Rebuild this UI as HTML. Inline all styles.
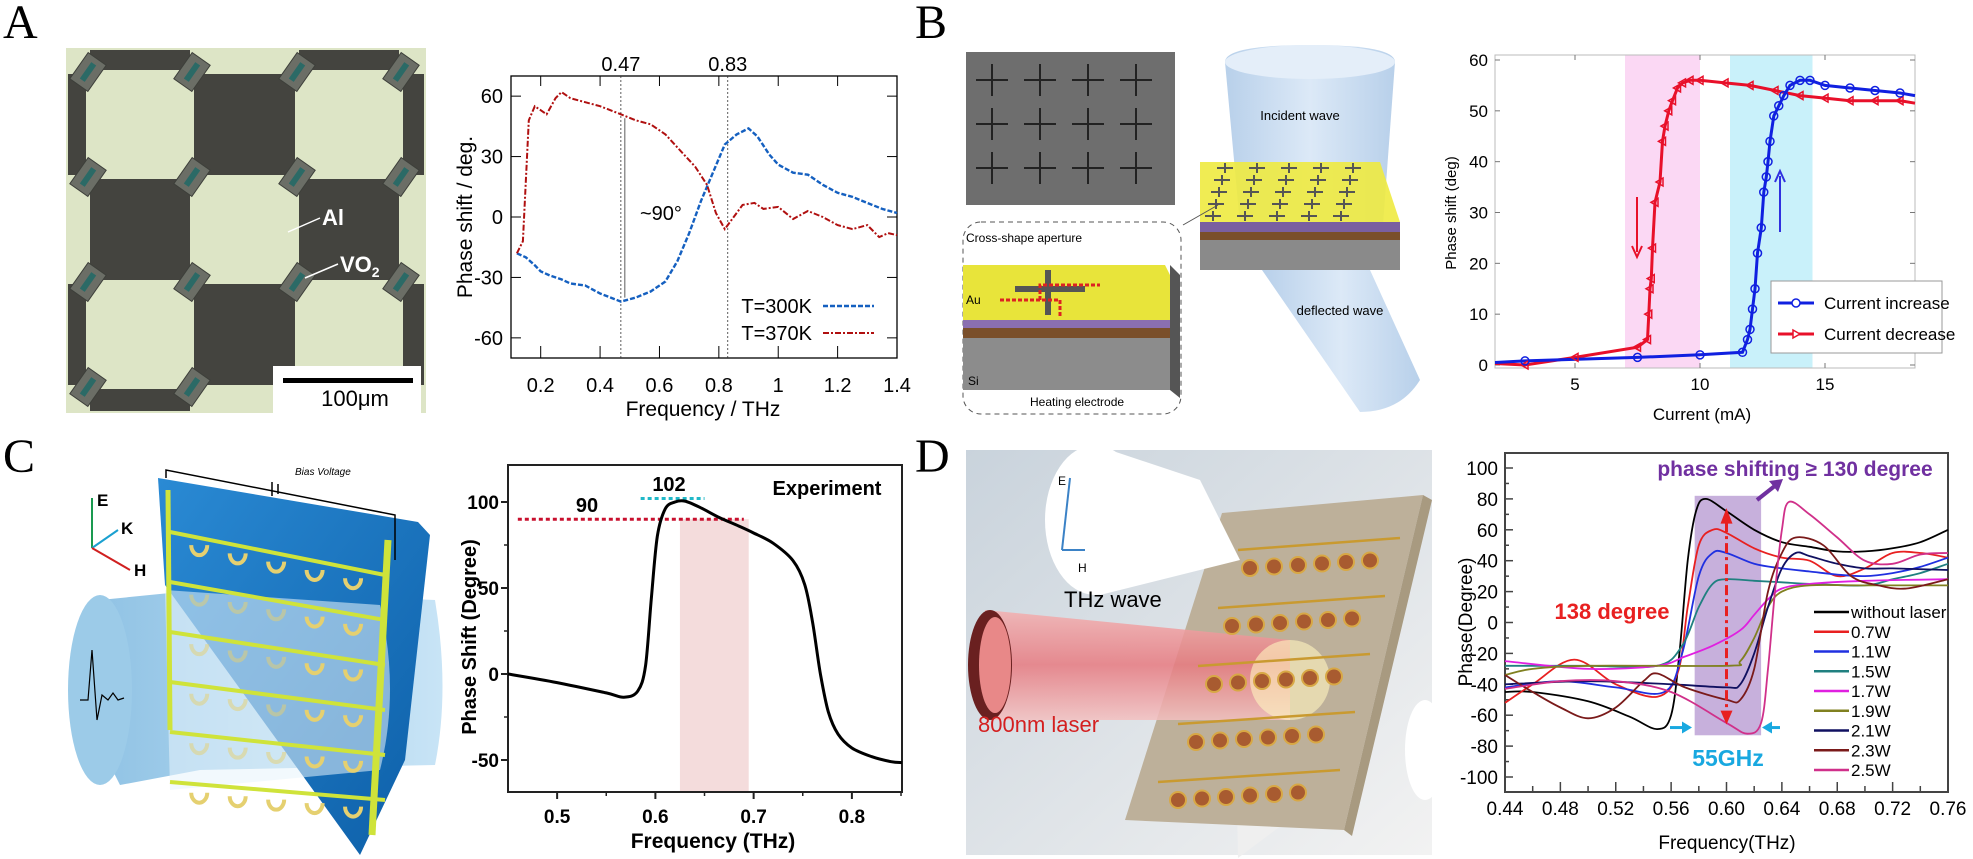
<!DOCTYPE html>
<html><head><meta charset="utf-8">
<style>
html,body{margin:0;padding:0;background:#fff;}
svg{display:block;}
text{font-family:"Liberation Sans",sans-serif;}
.n{font-family:"Liberation Sans Narrow","Liberation Sans",sans-serif;}
.lab{font-family:"Liberation Serif",serif;font-size:48px;}
</style></head>
<body>
<svg id="s" width="1973" height="859" viewBox="0 0 1973 859" xmlns="http://www.w3.org/2000/svg">
<defs>
<linearGradient id="beamC" x1="0" y1="0" x2="1" y2="0"><stop offset="0" stop-color="#8fc2e4"/><stop offset="1" stop-color="#c8e4f6"/></linearGradient>
<linearGradient id="panelC" x1="0" y1="0" x2="1" y2="1"><stop offset="0" stop-color="#2a8ad4"/><stop offset="1" stop-color="#0d5fa8"/></linearGradient>
<linearGradient id="bgD" x1="0" y1="0" x2="1" y2="1"><stop offset="0" stop-color="#c9d3dc"/><stop offset="1" stop-color="#f2f2f2"/></linearGradient>
<linearGradient id="laser" x1="0" y1="0" x2="0" y2="1"><stop offset="0" stop-color="#f3b0b0"/><stop offset="0.5" stop-color="#e77a80"/><stop offset="1" stop-color="#f3c0c0"/></linearGradient>
<linearGradient id="coneB" x1="0" y1="0" x2="1" y2="0"><stop offset="0" stop-color="#b8d0ea"/><stop offset="0.5" stop-color="#dce9f7"/><stop offset="1" stop-color="#b8d0ea"/></linearGradient>
</defs>

<text class="lab" x="3" y="38">A</text>
<text class="lab" x="915" y="38">B</text>
<text class="lab" x="3" y="472">C</text>
<text class="lab" x="915" y="472">D</text>

<g id="photoA">
<rect x="66" y="48" width="360" height="365" fill="#dde5c6"/>
</g>
<rect x="273" y="366" width="148" height="47" fill="#fff"/>
<rect x="283" y="378" width="130" height="5" fill="#000"/>
<text class="n" x="355" y="406" font-size="22" text-anchor="middle">100μm</text>
<text class="n" x="322" y="225" font-size="22" font-weight="bold" fill="#fff">Al</text>
<text class="n" x="340" y="272" font-size="22" font-weight="bold" fill="#fff">VO<tspan font-size="14" dy="5">2</tspan></text>
<line x1="320" y1="218" x2="288" y2="232" stroke="#fff" stroke-width="1.5"/>
<line x1="338" y1="264" x2="305" y2="278" stroke="#fff" stroke-width="1.5"/>

<!-- B illustration -->
<rect x="966" y="52" width="209" height="153" fill="#6e6e6e"/>
<g id="sem" stroke="#222" stroke-width="2"></g>
<rect x="963" y="222" width="218" height="192" rx="18" fill="none" stroke="#555" stroke-dasharray="5,4"/>
<text class="n" x="966" y="242" font-size="12">Cross-shape aperture</text>
<polygon points="963,265 1165,265 1170,275 1170,320 963,320" fill="#e8e43a"/>
<polygon points="963,320 1170,320 1170,328 963,328" fill="#8a6fb0"/>
<polygon points="963,328 1170,328 1170,338 963,338" fill="#7a4f2a"/>
<polygon points="963,338 1170,338 1170,390 963,390" fill="#8c8c8c"/>
<polygon points="1170,265 1180,275 1180,398 1170,390" fill="#555"/>
<rect x="1015" y="286" width="70" height="6" fill="#555"/>
<rect x="1045" y="270" width="6" height="45" fill="#555"/>
<path d="M1000,300 H1060 V318 M1040,300 V285 H1100" stroke="#d22" stroke-width="3" stroke-dasharray="4,2" fill="none"/>
<text class="n" x="966" y="304" font-size="12">Au</text>
<text class="n" x="968" y="385" font-size="12">Si</text>
<text class="n" x="1030" y="406" font-size="12">Heating electrode</text>
<path d="M1225,62 Q1225,45 1310,45 Q1395,45 1395,62 L1383,225 L1240,225 Z" fill="url(#coneB)"/>
<ellipse cx="1310" cy="62" rx="85" ry="17" fill="#e4eef9"/>
<path d="M1262,270 L1370,270 L1420,380 Q1400,412 1360,412 Z" fill="url(#coneB)"/>
<polygon points="1200,162 1380,162 1400,222 1200,222" fill="#eeea40" opacity="0.9"/>
<polygon points="1200,222 1400,222 1400,232 1200,232" fill="#7a5fa0"/>
<polygon points="1200,232 1400,232 1400,240 1200,240" fill="#7a4f2a"/>
<polygon points="1200,240 1400,240 1400,270 1200,270" fill="#8a8a8a"/>
<g id="slabcross" stroke="#555" stroke-width="2"></g>
<text class="n" x="1300" y="120" font-size="13" text-anchor="middle">Incident wave</text>
<text class="n" x="1340" y="315" font-size="13" text-anchor="middle">deflected wave</text>
<line x1="1218" y1="205" x2="1183" y2="225" stroke="#555"/>

<!-- C illustration -->
<path d="M100,600 Q70,690 120,785 L200,770 L435,765 Q450,690 435,600 L200,590 Z" fill="url(#beamC)"/>
<ellipse cx="100" cy="690" rx="32" ry="95" fill="#9ccbe8"/>
<polygon points="158,478 418,522 430,535 405,760 360,855 165,585" fill="url(#panelC)"/>
<path d="M165,590 L380,605 Q400,690 380,770 L170,790 Z" fill="#e8f4fc" opacity="0.55"/>
<g id="ringsC"></g>
<path d="M166,478 V470 L395,515 V560" stroke="#000" fill="none" stroke-width="1.5"/>
<line x1="272" y1="482" x2="272" y2="496" stroke="#000" stroke-width="1.5"/>
<line x1="278" y1="484" x2="278" y2="494" stroke="#000" stroke-width="1.5"/>
<text x="295" y="475" font-size="10" font-style="italic" font-family="Liberation Serif,serif">Bias Voltage</text>
<line x1="92" y1="548" x2="92" y2="498" stroke="#1a9a50" stroke-width="2"/>
<line x1="92" y1="548" x2="118" y2="530" stroke="#1aa0d0" stroke-width="2"/>
<line x1="92" y1="548" x2="130" y2="570" stroke="#d02020" stroke-width="2"/>
<text x="97" y="506" font-size="17" font-weight="bold">E</text>
<text x="121" y="534" font-size="17" font-weight="bold">K</text>
<text x="134" y="576" font-size="17" font-weight="bold">H</text>
<path d="M80,700 L88,700 L92,650 L97,720 L102,695 L108,700 L113,693 L118,700 L124,698" stroke="#000" fill="none" stroke-width="1.2"/>

<!-- D illustration -->
<rect x="966" y="450" width="466" height="405" fill="url(#bgD)"/>
<polygon points="1232,528 1325,515 1322,795 1238,858" fill="#efefef"/>
<polygon points="1222,513 1423,495 1344,830 1125,820" fill="#bdb09a"/>
<polygon points="1423,495 1432,500 1352,836 1344,830" fill="#a89a80"/>
<ellipse cx="1095" cy="520" rx="50" ry="75" fill="#fff"/>
<polygon points="1095,445 1200,480 1240,560 1100,595" fill="#fff"/>
<line x1="1062" y1="550" x2="1070" y2="478" stroke="#3b82c6" stroke-width="2"/>
<line x1="1062" y1="550" x2="1085" y2="550" stroke="#3b82c6" stroke-width="2"/>
<text x="1058" y="485" font-size="12" font-family="Liberation Serif,serif">E</text>
<text x="1078" y="572" font-size="12" font-family="Liberation Serif,serif">H</text>
<text class="n" x="1064" y="607" font-size="22">THz wave</text>
<polygon points="985,610 1290,640 1290,720 985,720" fill="url(#laser)" opacity="0.85"/>
<ellipse cx="990" cy="665" rx="22" ry="55" fill="#6a2020"/>
<ellipse cx="995" cy="665" rx="16" ry="48" fill="#e88888"/>
<ellipse cx="1290" cy="680" rx="40" ry="40" fill="#fff5c0" opacity="0.6"/>
<g id="dotsD"></g>
<text class="n" x="978" y="732" font-size="22" fill="#d42020">800nm laser</text>
<ellipse cx="1425" cy="750" rx="20" ry="50" fill="#fff"/>

<g id="charts"></g>
</svg>

<script>
var NS="http://www.w3.org/2000/svg";
var G=document.getElementById('charts');
function el(tag,attrs,parent,txt){var e=document.createElementNS(NS,tag);for(var k in attrs)e.setAttribute(k,attrs[k]);if(txt!==undefined)e.textContent=txt;(parent||G).appendChild(e);return e;}
function mapper(x0,x1,px0,px1,y0,y1,py0,py1){return {x:function(v){return px0+(v-x0)/(x1-x0)*(px1-px0);},y:function(v){return py0+(v-y0)/(y1-y0)*(py1-py0);}};}
function smooth(m,pts){var p=pts.map(function(q){return [m.x(q[0]),m.y(q[1])];});var d="M"+p[0][0].toFixed(1)+","+p[0][1].toFixed(1);
for(var i=0;i<p.length-1;i++){var a=p[i-1]||p[i],b=p[i],c=p[i+1],e=p[i+2]||c;
var c1=[b[0]+(c[0]-a[0])/6,b[1]+(c[1]-a[1])/6],c2=[c[0]-(e[0]-b[0])/6,c[1]-(e[1]-b[1])/6];
d+=" C"+c1[0].toFixed(1)+","+c1[1].toFixed(1)+" "+c2[0].toFixed(1)+","+c2[1].toFixed(1)+" "+c[0].toFixed(1)+","+c[1].toFixed(1);}return d;}
function poly(m,pts){return "M"+pts.map(function(q){return m.x(q[0]).toFixed(1)+","+m.y(q[1]).toFixed(1);}).join(" L");}

(function(){var g=document.getElementById('photoA');
var xs=[66,88,192,297,401,426],ys=[48,72,177,282,387,413];
for(var r=0;r<5;r++)for(var c=0;c<5;c++){if((r+c)%2==1)el('rect',{x:xs[c]+2,y:ys[r]+2,width:xs[c+1]-xs[c]-4,height:ys[r+1]-ys[r]-4,fill:'#44443f'},g);}
[88,192,297,401].forEach(function(x){[72,177,282,387].forEach(function(y){
el('rect',{x:x-11,y:y-16,width:22,height:32,fill:'#6b6e66',stroke:'#3d3f3a','stroke-width':1,transform:'rotate(35 '+x+' '+y+')'},g);
el('rect',{x:x-3,y:y-10,width:6,height:20,fill:'#2b6a66',transform:'rotate(35 '+x+' '+y+')'},g);});});
})();

(function(){var g=document.getElementById('sem');
[992,1040,1088,1136].forEach(function(x){[80,124,168].forEach(function(y){el('line',{x1:x-16,y1:y,x2:x+16,y2:y},g);el('line',{x1:x,y1:y-16,x2:x,y2:y+16},g);});});
var g2=document.getElementById('slabcross');
for(var r=0;r<5;r++)for(var c=0;c<5;c++){var x=1225+c*32+r*(-3),y=168+r*12;el('line',{x1:x-8,y1:y,x2:x+8,y2:y},g2);el('line',{x1:x,y1:y-5,x2:x,y2:y+5},g2);}
var gr=document.getElementById('ringsC');
el('line',{x1:168,y1:490,x2:170,y2:730,stroke:'#cfe33a','stroke-width':5},gr);
el('line',{x1:388,y1:540,x2:372,y2:835,stroke:'#cfe33a','stroke-width':7},gr);
for(var r=0;r<6;r++){var yl=532+r*50,yr=575+r*45;
el('line',{x1:170,y1:yl,x2:385,y2:yr,stroke:'#cfe33a','stroke-width':4},gr);
for(var c=0;c<5;c++){var t=(c+0.5)/5.2;var x=180+t*200,yy=yl+t*(yr-yl)+9;
el('path',{d:'M'+(x-8)+','+(yy)+' a8,10 0 1,0 16,0',stroke:'#e5d070','stroke-width':4,fill:'none',opacity:(x<300&&yy>580&&yy<790)?0.5:1},gr);}}
var gd=document.getElementById('dotsD');
for(var r=0;r<5;r++){var y=560+r*58;el('line',{x1:1238-r*20,y1:y-10,x2:1400-r*15,y2:y-22,stroke:'#c99a30','stroke-width':2.5},gd);
for(var c=0;c<6;c++){var x=1250+c*24-r*18;el('circle',{cx:x,cy:y+8-c*1.5,r:8,fill:'#a85b30',stroke:'#d8a845','stroke-width':2},gd);}}
})();

(function(){var m=mapper(0.1,1.4,511,897,70,-70,76,358);
el('rect',{x:511,y:76,width:386,height:282,fill:'none',stroke:'#000','stroke-width':1.3});
[0.2,0.4,0.6,0.8,1,1.2,1.4].forEach(function(v){var x=m.x(v);el('line',{x1:x,y1:358,x2:x,y2:346,stroke:'#000'});el('line',{x1:x,y1:76,x2:x,y2:86,stroke:'#000'});
el('text',{x:x,y:392,'font-size':20,'text-anchor':'middle',class:'n'},undefined,String(v));});
[-60,-30,0,30,60].forEach(function(v){var y=m.y(v);el('line',{x1:511,y1:y,x2:521,y2:y,stroke:'#000'});el('line',{x1:897,y1:y,x2:887,y2:y,stroke:'#000'});
el('text',{x:503,y:y+7,'font-size':20,'text-anchor':'end',class:'n'},undefined,String(v));});
[0.47,0.83].forEach(function(v){var x=m.x(v);el('line',{x1:x,y1:76,x2:x,y2:358,stroke:'#333','stroke-dasharray':'2,2','stroke-width':0.8});
el('text',{x:x,y:71,'font-size':20,'text-anchor':'middle',class:'n'},undefined,String(v));});
el('text',{x:703,y:416,'font-size':21,'text-anchor':'middle',class:'n'},undefined,'Frequency / THz');
el('text',{x:0,y:0,'font-size':21,'text-anchor':'middle',transform:'translate(472,217) rotate(-90)'},undefined,'Phase shift / deg.');
var x47=m.x(0.47);el('line',{x1:x47+4,y1:m.y(-40),x2:x47+4,y2:m.y(49),stroke:'#333','stroke-width':0.8});
el('text',{x:640,y:220,'font-size':20,class:'n'},undefined,'~90°');
var blue=[[0.12,-18],[0.15,-20],[0.18,-24],[0.2,-27],[0.23,-29],[0.27,-31],[0.3,-33],[0.35,-34],[0.4,-38],[0.47,-42],[0.52,-40],[0.57,-37],[0.62,-32],[0.66,-22],[0.7,-8],[0.74,8],[0.78,22],[0.82,36],[0.86,41],[0.9,44],[0.93,40],[0.97,31],[1.0,26],[1.05,22],[1.1,21],[1.15,16],[1.2,12],[1.25,10],[1.3,7],[1.35,4],[1.4,2]];
var red=[[0.12,-18],[0.14,-12],[0.16,48],[0.18,55],[0.2,53],[0.22,51],[0.25,59],[0.27,62],[0.3,59],[0.35,57],[0.4,55],[0.47,51],[0.52,48],[0.57,46],[0.62,41],[0.67,33],[0.72,25],[0.76,16],[0.79,2],[0.82,-6],[0.85,0],[0.88,6],[0.92,7],[0.95,4],[1.0,5],[1.05,-1],[1.1,3],[1.15,0],[1.2,-4],[1.25,-6],[1.3,-4],[1.34,-10],[1.37,-8],[1.4,-9]];
el('path',{d:poly(m,blue),stroke:'#1560c0','stroke-width':2.4,fill:'none','stroke-dasharray':'5,2'});
el('path',{d:poly(m,red),stroke:'#b01010','stroke-width':2,fill:'none','stroke-dasharray':'6,2,2,2'});
el('text',{x:812,y:313,'font-size':20,'text-anchor':'end',class:'n'},undefined,'T=300K');
el('text',{x:812,y:340,'font-size':20,'text-anchor':'end',class:'n'},undefined,'T=370K');
el('line',{x1:823,y1:306,x2:874,y2:306,stroke:'#1560c0','stroke-width':2.4,'stroke-dasharray':'5,2'});
el('line',{x1:823,y1:333,x2:874,y2:333,stroke:'#b01010','stroke-width':2,'stroke-dasharray':'6,2,2,2'});
})();

(function(){var m=mapper(1.8,18.6,1495,1915,0,60,365,60);
el('rect',{x:m.x(7),y:55,width:m.x(10)-m.x(7),height:313,fill:'#fbd8f4'});
el('rect',{x:m.x(11.2),y:55,width:m.x(14.5)-m.x(11.2),height:313,fill:'#c9f1fa'});
el('rect',{x:1495,y:55,width:420,height:313,fill:'none',stroke:'#bbb','stroke-width':1});
[5,10,15].forEach(function(v){var x=m.x(v);el('line',{x1:x,y1:368,x2:x,y2:363,stroke:'#777'});el('line',{x1:x,y1:55,x2:x,y2:60,stroke:'#777'});
el('text',{x:x,y:390,'font-size':17,'text-anchor':'middle',class:'n'},undefined,String(v));});
[0,10,20,30,40,50,60].forEach(function(v){var y=m.y(v);el('line',{x1:1495,y1:y,x2:1500,y2:y,stroke:'#777'});el('line',{x1:1915,y1:y,x2:1910,y2:y,stroke:'#777'});
el('text',{x:1488,y:y+6,'font-size':17,'text-anchor':'end',class:'n'},undefined,String(v));});
el('text',{x:1702,y:420,'font-size':17,'text-anchor':'middle',class:'n'},undefined,'Current (mA)');
el('text',{x:0,y:0,'font-size':15,'text-anchor':'middle',transform:'translate(1456,213) rotate(-90)'},undefined,'Phase shift (deg)');
var blue=[[1.8,0.5],[3,0.8],[7.5,1.5],[10,2],[11.7,2.5],[11.9,5],[12,7],[12.1,11],[12.2,15],[12.3,22],[12.45,27],[12.55,34],[12.65,37],[12.72,40],[12.8,44],[12.95,49],[13.15,51],[13.35,53],[13.6,55],[14,56],[14.4,56],[15,55],[16,54.5],[17,54],[18,53.5],[18.6,53]];
var red=[[18.6,51.5],[18,52],[17,52],[16,52],[15,52.5],[14,53],[13,54],[12,55],[11,55.5],[10,56],[9.6,56],[9.3,55.5],[9.1,54.5],[8.9,52],[8.75,50],[8.6,47],[8.5,44],[8.4,36],[8.2,32],[8.1,23],[8.05,17],[8.0,15],[7.95,10],[7.9,5],[7.5,3.5],[5,1.5],[3,0],[1.8,0.3]];
el('path',{d:poly(m,red),stroke:'#e8102a','stroke-width':3,fill:'none'});
el('path',{d:poly(m,blue),stroke:'#1020e0','stroke-width':3,fill:'none'});
red.forEach(function(p,i){if(i==0||i==red.length-1)return;var x=m.x(p[0]),y=m.y(p[1]);el('path',{d:'M'+(x-4)+','+y+' L'+(x+3)+','+(y-4)+' L'+(x+3)+','+(y+4)+'Z',fill:'none',stroke:'#e8102a','stroke-width':1.5});});
blue.forEach(function(p,i){if(i==0||i==blue.length-1)return;el('circle',{cx:m.x(p[0]),cy:m.y(p[1]),r:4,fill:'none',stroke:'#1020e0','stroke-width':1.5});});
el('line',{x1:1637,y1:197,x2:1637,y2:252,stroke:'#e8102a','stroke-width':2});
el('path',{d:'M1632,246 L1637,257 L1642,246',fill:'none',stroke:'#e8102a','stroke-width':2});
el('line',{x1:1780,y1:232,x2:1780,y2:176,stroke:'#3030e0','stroke-width':2});
el('path',{d:'M1775,182 L1780,171 L1785,182',fill:'none',stroke:'#3030e0','stroke-width':2});
el('rect',{x:1771,y:281,width:171,height:72,fill:'#fff',stroke:'#999'});
el('line',{x1:1778,y1:303,x2:1814,y2:303,stroke:'#1020e0','stroke-width':3});el('circle',{cx:1796,cy:303,r:4,fill:'#fff',stroke:'#1020e0','stroke-width':1.5});
el('line',{x1:1778,y1:334,x2:1814,y2:334,stroke:'#e8102a','stroke-width':3});el('path',{d:'M1800,334 L1793,330 L1793,338Z',fill:'#fff',stroke:'#e8102a','stroke-width':1.5});
el('text',{x:1824,y:309,'font-size':17,class:'n'},undefined,'Current increase');
el('text',{x:1824,y:340,'font-size':17,class:'n'},undefined,'Current decrease');
})();

(function(){var m=mapper(0.45,0.851,508,902,0,100,674,502);
el('rect',{x:m.x(0.625),y:m.y(90),width:m.x(0.695)-m.x(0.625),height:792-m.y(90),fill:'#f4dcdc'});
el('rect',{x:508,y:465,width:394,height:327,fill:'none',stroke:'#222','stroke-width':2});
[0.5,0.6,0.7,0.8].forEach(function(v){var x=m.x(v);el('line',{x1:x,y1:792,x2:x,y2:799,stroke:'#222','stroke-width':2});
el('text',{x:x,y:823,'font-size':19,'font-weight':'bold','text-anchor':'middle'},undefined,String(v));});
[0.55,0.65,0.75,0.85].forEach(function(v){var x=m.x(v);el('line',{x1:x,y1:792,x2:x,y2:796,stroke:'#222','stroke-width':1.5});});
[-50,0,50,100].forEach(function(v){var y=m.y(v);el('line',{x1:508,y1:y,x2:501,y2:y,stroke:'#222','stroke-width':2});
el('text',{x:499,y:y+7,'font-size':19,'font-weight':'bold','text-anchor':'end'},undefined,String(v));});
[-25,25,75].forEach(function(v){var y=m.y(v);el('line',{x1:508,y1:y,x2:504,y2:y,stroke:'#222','stroke-width':1.5});});
el('text',{x:713,y:848,'font-size':21,'font-weight':'bold','text-anchor':'middle'},undefined,'Frequency (THz)');
el('text',{x:0,y:0,'font-size':20,'font-weight':'bold','text-anchor':'middle',transform:'translate(476,637) rotate(-90)'},undefined,'Phase Shift (Degree)');
el('line',{x1:m.x(0.46),y1:m.y(90),x2:m.x(0.69),y2:m.y(90),stroke:'#c8102e','stroke-width':3,'stroke-dasharray':'4,3'});
el('line',{x1:m.x(0.585),y1:m.y(102),x2:m.x(0.65),y2:m.y(102),stroke:'#20b8c8','stroke-width':3,'stroke-dasharray':'4,3'});
var c=[[0.45,0],[0.5,-5],[0.55,-11],[0.568,-13.5],[0.582,-10],[0.59,5],[0.596,45],[0.602,80],[0.61,96],[0.62,100],[0.63,100.5],[0.645,97],[0.665,91],[0.685,86],[0.7,82],[0.72,76],[0.74,66],[0.752,52],[0.76,30],[0.768,0],[0.776,-22],[0.786,-35],[0.8,-43],[0.82,-48],[0.84,-51],[0.851,-51.5]];
el('path',{d:smooth(m,c),stroke:'#000','stroke-width':3,fill:'none'});
el('text',{x:587,y:512,'font-size':20,'font-weight':'bold','text-anchor':'middle'},undefined,'90');
el('text',{x:669,y:491,'font-size':20,'font-weight':'bold','text-anchor':'middle'},undefined,'102');
el('text',{x:827,y:495,'font-size':20,'font-weight':'bold','text-anchor':'middle'},undefined,'Experiment');
})();

(function(){var m=mapper(0.44,0.76,1505,1948,0,100,622.5,468);
el('rect',{x:m.x(0.577),y:m.y(82),width:m.x(0.625)-m.x(0.577),height:m.y(-73)-m.y(82),fill:'#c7b0dc'});
el('rect',{x:1505,y:453,width:443,height:339,fill:'none',stroke:'#444','stroke-width':2});
for(var i=0;i<=16;i++){var v=0.44+i*0.02,x=m.x(v);el('line',{x1:x,y1:792,x2:x,y2:i%2?786:782,stroke:'#444','stroke-width':1.5});
if(i%2==0)el('text',{x:x,y:815,'font-size':19,'text-anchor':'middle'},undefined,v.toFixed(2));}
for(var v=-100;v<=100;v+=10){var y=m.y(v);el('line',{x1:1505,y1:y,x2:v%20?1509:1513,y2:y,stroke:'#444','stroke-width':1.5});
if(v%20==0)el('text',{x:1498,y:y+7,'font-size':19,'text-anchor':'end',class:'n'},undefined,String(v));}
el('text',{x:1727,y:849,'font-size':19,'text-anchor':'middle',class:'n'},undefined,'Frequency(THz)');
el('text',{x:0,y:0,'font-size':19,'text-anchor':'middle',transform:'translate(1472,622) rotate(-90)'},undefined,'Phase(Degree)');
var S=[
['#000','without laser',[[0.44,-45],[0.46,-45],[0.5,-51],[0.53,-61],[0.55,-69],[0.56,-60],[0.566,-20],[0.572,40],[0.578,72],[0.585,80],[0.6,72],[0.62,60],[0.64,52],[0.66,49],[0.68,46],[0.7,46],[0.72,48],[0.74,52],[0.76,60]]],
['#e82020','0.7W',[[0.44,-52],[0.46,-40],[0.49,-24],[0.52,-40],[0.55,-48],[0.565,-32],[0.572,10],[0.58,50],[0.59,60],[0.6,58],[0.62,48],[0.64,42],[0.66,40],[0.68,30],[0.7,35],[0.72,45],[0.74,45],[0.76,42]]],
['#2030e0','1.1W',[[0.44,-42],[0.48,-38],[0.52,-42],[0.555,-45],[0.568,-20],[0.58,30],[0.59,45],[0.6,45],[0.62,38],[0.64,35],[0.66,33],[0.68,31],[0.7,30],[0.72,32],[0.74,36],[0.76,42]]],
['#208080','1.5W',[[0.44,-28],[0.5,-28],[0.55,-28],[0.568,-15],[0.58,10],[0.59,25],[0.6,28],[0.62,27],[0.64,26],[0.66,25],[0.7,24],[0.72,28],[0.74,32],[0.76,38]]],
['#e020e0','1.7W',[[0.44,-25],[0.5,-30],[0.55,-28],[0.57,-22],[0.59,-15],[0.61,-5],[0.62,5],[0.63,15],[0.64,22],[0.66,25],[0.7,27],[0.76,28]]],
['#808020','1.9W',[[0.44,-34],[0.46,-30],[0.5,-28],[0.6,-28],[0.61,-25],[0.62,-10],[0.63,10],[0.64,20],[0.66,24],[0.7,24],[0.76,24]]],
['#101060','2.1W',[[0.44,-40],[0.5,-38],[0.56,-40],[0.6,-42],[0.61,-40],[0.62,-20],[0.63,10],[0.64,35],[0.65,45],[0.66,43],[0.68,38],[0.7,35],[0.72,35],[0.76,34]]],
['#7a1a1a','2.3W',[[0.44,-34],[0.46,-45],[0.48,-55],[0.5,-62],[0.52,-55],[0.54,-38],[0.55,-33],[0.57,-42],[0.6,-50],[0.61,-50],[0.62,-30],[0.63,20],[0.64,45],[0.65,55],[0.67,50],[0.69,30],[0.71,24],[0.73,22],[0.76,28]]],
['#d0308a','2.5W',[[0.44,-43],[0.48,-38],[0.52,-38],[0.56,-45],[0.6,-65],[0.615,-72],[0.625,-65],[0.63,-30],[0.635,20],[0.64,60],[0.645,78],[0.66,70],[0.68,55],[0.7,40],[0.72,38],[0.74,44],[0.76,45]]]];
S.forEach(function(s,i){el('path',{d:smooth(m,s[2]),stroke:s[0],'stroke-width':1.8,fill:'none'});
var y=612+i*19.75;el('line',{x1:1814,y1:y,x2:1849,y2:y,stroke:s[0],'stroke-width':2.5});
el('text',{x:1851,y:y+6,'font-size':17,class:'n'},undefined,s[1]);});
var x6=m.x(0.6);
el('line',{x1:x6,y1:m.y(65),x2:x6,y2:m.y(-58),stroke:'#e82020','stroke-width':3,'stroke-dasharray':'10,4,3,4'});
el('path',{d:'M'+(x6-6)+','+(m.y(64))+' L'+x6+','+(m.y(74))+' L'+(x6+6)+','+(m.y(64))+'Z',fill:'#e82020'});
el('path',{d:'M'+(x6-6)+','+(m.y(-57))+' L'+x6+','+(m.y(-66))+' L'+(x6+6)+','+(m.y(-57))+'Z',fill:'#e82020'});
el('text',{x:1612,y:619,'font-size':22,'font-weight':'bold',fill:'#e82020','text-anchor':'middle',class:'n'},undefined,'138 degree');
el('text',{x:1795,y:476,'font-size':21,'font-weight':'bold',fill:'#7030a0','text-anchor':'middle',class:'n'},undefined,'phase shifting ≥ 130 degree');
el('line',{x1:1757,y1:500,x2:1776,y2:485,stroke:'#7030a0','stroke-width':4});
el('path',{d:'M1769,481 L1783,479 L1778,492Z',fill:'#7030a0'});
el('text',{x:1728,y:766,'font-size':23,'font-weight':'bold',fill:'#18a8e0','text-anchor':'middle',class:'n'},undefined,'55GHz');
var ya=m.y(-68);
el('path',{d:'M1670,'+ya+' H1683',stroke:'#18a8e0','stroke-width':3});el('path',{d:'M1682,'+(ya-6)+' L1692,'+ya+' L1682,'+(ya+6)+'Z',fill:'#18a8e0'});
el('path',{d:'M1780,'+ya+' H1770',stroke:'#18a8e0','stroke-width':3});el('path',{d:'M1772,'+(ya-6)+' L1762,'+ya+' L1772,'+(ya+6)+'Z',fill:'#18a8e0'});
})();
</script>
</body></html>
